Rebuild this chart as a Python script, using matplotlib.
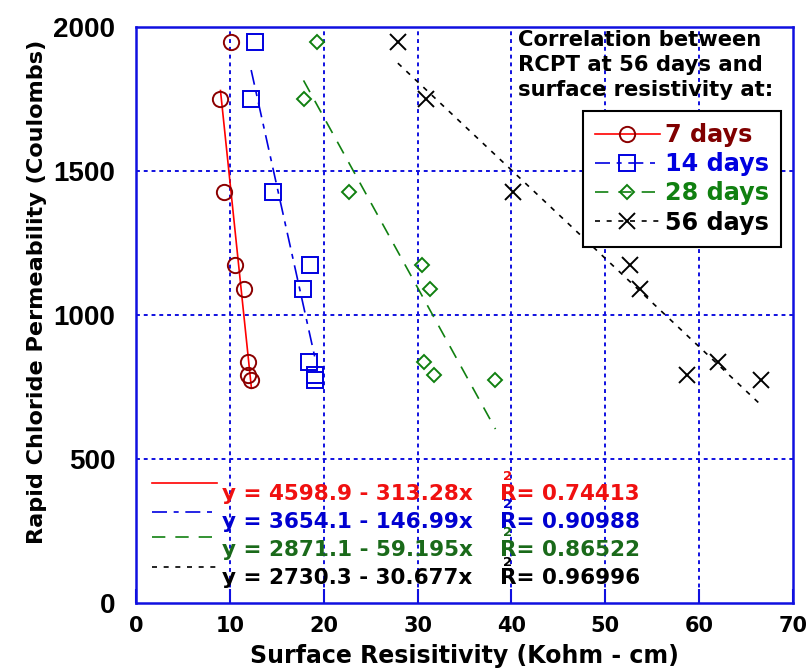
import numpy as np
import matplotlib
matplotlib.use("Agg")
import matplotlib.pyplot as plt
from matplotlib.lines import Line2D

# ---- data ----
rcpt = [1947, 1749, 1428, 1172, 1091, 836, 792, 774]
sr7 = [10.15, 9.0, 9.37, 10.53, 11.52, 11.9, 11.9, 12.3]
sr14 = [12.7, 12.27, 14.6, 18.5, 17.74, 18.45, 19.1, 19.1]
sr28 = [19.27, 17.85, 22.7, 30.5, 31.3, 30.7, 31.8, 38.3]
sr56 = [27.9, 30.9, 40.2, 52.6, 53.7, 62.0, 58.7, 66.6]
fit_a = [4598.9, 3654.1, 2871.1, 2730.3]
fit_b = [313.28, 146.99, 59.195, 30.677]
r2 = ["0.74413", "0.90988", "0.86522", "0.96996"]
series_labels = ["7 days", "14 days", "28 days", "56 days"]
xticks = [0, 10, 20, 30, 40, 50, 60, 70]
yticks = [0, 500, 1000, 1500, 2000]

arial = "Liberation Sans"
wide = "DejaVu Sans"

fig = plt.figure(figsize=(8.08, 6.69), dpi=100)
W, H = 808, 669
ax = fig.add_axes([136 / W, 1 - 603 / H, (793 - 136) / W, (603 - 27) / H])
ax.set_xlim(0, 70)
ax.set_ylim(0, 2000)


def fitted_size(text, family, target_w, base=15):
    t = fig.text(0, 0, text, family=family, weight="bold", fontsize=base)
    fig.canvas.draw()
    w = t.get_window_extent(fig.canvas.get_renderer()).width
    t.remove()
    return base * target_w / w


gridc = "#1010E0"
for x in xticks[1:-1]:
    ax.axvline(x, color=gridc, lw=1.4, ls=(0, (2, 2)), zorder=0)
for y in yticks[1:-1]:
    ax.axhline(y, color=gridc, lw=1.4, ls=(0, (2, 2)), zorder=0)

for s in ax.spines.values():
    s.set_color(gridc)
    s.set_linewidth(1.8)

ax.set_xticks(xticks)
ax.set_yticks(yticks)
ax.tick_params(axis="x", direction="in", length=10, width=1.5, color=gridc, pad=9)
ax.tick_params(axis="y", direction="in", length=0, width=1.5, color=gridc, pad=15)
ax.tick_params(axis="y", which="major", right=True)
for lab in ax.get_xticklabels():
    lab.set_fontfamily(wide); lab.set_fontweight("bold"); lab.set_fontsize(15)
for lab in ax.get_yticklabels():
    lab.set_fontfamily(arial); lab.set_fontweight("bold"); lab.set_fontsize(20)

fig.text(464 / W, 1 - 663 / H, "Surface Resisitivity (Kohm - cm)", family=wide, weight="bold",
         fontsize=17, ha="center", va="baseline")
yl_size = fitted_size("Rapid Chloride Permeability (Coulombs)", wide, 505)
fig.text(37 / W, 1 - 292 / H, "Rapid Chloride Permeability (Coulombs)", family=wide, weight="bold",
         fontsize=yl_size, ha="center", va="center", rotation=90)

data = [sr7, sr14, sr28, sr56]
line_colors = ["#FF0000", "#0000E0", "#108010", "#000000"]
marker_colors = ["#8B0000", "#0000E0", "#108010", "#000000"]
markers = ["o", "s", "D", "x"]
msizes = [11, 11, 7, 12]
lstyles = ["-", (0, (9, 4, 3, 4)), (0, (8, 6)), (0, (3, 4))]
text_colors = ["#800000", "#0000E0", "#108010", "#000000"]
eq_colors = ["#F01010", "#0000D0", "#1A6A1A", "#000000"]

for xs, mc, mk, ms in zip(data, marker_colors, markers, msizes):
    ax.plot(xs, rcpt, ls="none", marker=mk, ms=ms, mfc="none", mec=mc, mew=1.4, zorder=3)

for xs, a, b, lc, ls in zip(data, fit_a, fit_b, line_colors, lstyles):
    xx = np.array([min(xs), max(xs)])
    ax.plot(xx, a - b * xx, color=lc, ls=ls, lw=1.2, zorder=2)

# legend
leg_size = fitted_size("14 days", wide, 104)
handles = []
for lc, mc, mk, ms, ls in zip(line_colors, marker_colors, markers, msizes, lstyles):
    handles.append(Line2D([], [], color=lc, ls=ls, lw=1.2, marker=mk, ms=ms, mfc="none", mec=mc, mew=1.4))
leg = ax.legend(handles, series_labels, loc="upper left",
                bbox_to_anchor=((583 - 136) / 657, (603 - 111) / 576),
                prop={"family": wide, "weight": "bold", "size": leg_size}, frameon=True, fancybox=False,
                edgecolor="black", handlelength=2.7, borderpad=0.5, labelspacing=0.22, handletextpad=0.25,
                borderaxespad=0)
leg.get_frame().set_linewidth(1.5)
leg.get_frame().set_facecolor("white")
leg.get_frame().set_alpha(1)
leg.set_zorder(6)
for t, c in zip(leg.get_texts(), text_colors):
    t.set_color(c)

cor_size = fitted_size("Correlation between", wide, 245)
ax.text((518 - 136) / 657, (603 - 30) / 576, "Correlation between\nRCPT at 56 days and\nsurface resistivity at:",
        transform=ax.transAxes, ha="left", va="top", fontfamily=wide, fontweight="bold",
        fontsize=cor_size, linespacing=1.3, color="black", zorder=5)

# fit equations at bottom left
eq_size = fitted_size("y = 4598.9 - 313.28x", wide, 251)
base_px = [499.5, 527.5, 555.5, 584.5]
line_px = [483, 512, 537, 567]
for i in range(4):
    yl = (603 - line_px[i]) / 576
    ax.plot([(152 - 136) / 657, (217 - 136) / 657], [yl, yl], transform=ax.transAxes, color=line_colors[i],
            ls=lstyles[i], lw=1.2, clip_on=False)
    yb = (603 - base_px[i]) / 576
    ax.text((222 - 136) / 657, yb, f"y = {fit_a[i]} - {fit_b[i]}x", transform=ax.transAxes,
            ha="left", va="baseline", fontfamily=wide, fontweight="bold", fontsize=eq_size, color=eq_colors[i])
    ax.text((500 - 136) / 657, yb, f"R= {r2[i]}", transform=ax.transAxes,
            ha="left", va="baseline", fontfamily=wide, fontweight="bold", fontsize=eq_size, color=eq_colors[i])
    ax.text((503 - 136) / 657, yb + 19 / 576, "2", transform=ax.transAxes,
            ha="left", va="baseline", fontfamily=wide, fontweight="bold", fontsize=eq_size * 0.62,
            color=eq_colors[i])

fig.savefig("out.png", dpi=100)
